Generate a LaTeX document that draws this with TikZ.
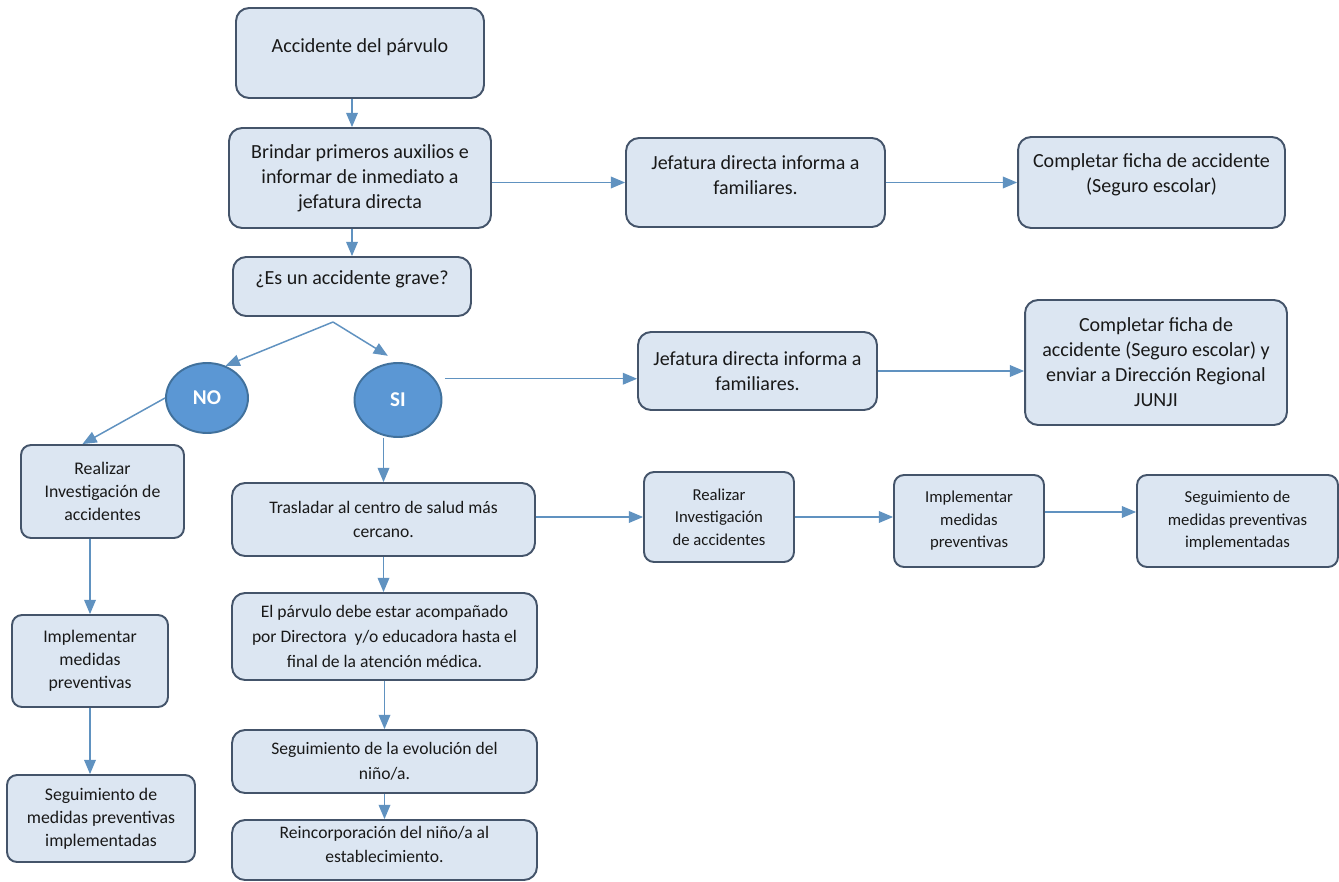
\documentclass[tikz,border=0pt]{standalone}
\usepackage{fontspec}
\setmainfont{Carlito}
\usepackage{tikz}
\usetikzlibrary{positioning,arrows,shapes,calc}

\definecolor{boxfill}{RGB}{220,230,242}
\definecolor{boxline}{RGB}{68,84,106}
\definecolor{circfill}{RGB}{91,151,212}
\definecolor{circline}{RGB}{65,113,156}
\definecolor{arrline}{RGB}{96,146,192}
\definecolor{txt}{RGB}{25,25,25}

\begin{document}
\begin{tikzpicture}[x=0.02cm, y=-0.02cm,
   pbox/.style={draw=boxline, line width=1.1pt, fill=boxfill, rounded corners=0.26cm, align=center, text=txt, inner sep=2pt, font=\fontsize{11.4}{14.2}\selectfont},
   mbox/.style={pbox, font=\fontsize{10}{14}\selectfont},
   sbox/.style={pbox, rounded corners=0.2cm, font=\fontsize{10.1}{13}\selectfont},
   tbox/.style={sbox, font=\fontsize{9.5}{12.8}\selectfont},
   cnode/.style={draw=circline, line width=1.1pt, fill=circfill, ellipse, inner sep=0pt, text=white, font=\fontsize{12}{14}\selectfont\bfseries},
   arr/.style={->,>=triangle 45, draw=arrline, line width=0.85pt},
]

    \useasboundingbox (0,0) rectangle (1339,882);

    % main column
    \node[pbox, minimum width=4.96cm, minimum height=1.8cm, text depth=0.3cm] (acc) at (360,53) {Accidente del párvulo};
    \node[pbox, minimum width=5.24cm, minimum height=2cm] (aux) at (360,178) {Brindar primeros auxilios e\\informar de inmediato a\\jefatura directa};
    \node[pbox, minimum width=4.76cm, minimum height=1.18cm, text depth=0.34cm] (grave) at (352,286.5) {¿Es un accidente grave?};

    \node[pbox, minimum width=5.18cm, minimum height=1.78cm, text depth=0.28cm] (info1) at (755.5,182.5) {Jefatura directa informa a\\familiares.};
    \node[pbox, minimum width=5.34cm, minimum height=1.82cm, text depth=0.37cm] (ficha1) at (1151.5,182.5) {Completar ficha de accidente\\(Seguro escolar)};

    \node[cnode, minimum width=1.64cm, minimum height=1.4cm] (no) at (207,398) {NO};
    \node[cnode, minimum width=1.74cm, minimum height=1.48cm] (si) at (398,400) {SI};

    \node[pbox, minimum width=4.78cm, minimum height=1.56cm] (info2) at (757.5,371) {Jefatura directa informa a\\familiares.};
    \node[pbox, minimum width=5.24cm, minimum height=2.5cm] (ficha2) at (1156,362.5) {Completar ficha de\\accidente (Seguro escolar) y\\enviar a Dirección Regional\\JUNJI};

    % NO branch
    \node[sbox, minimum width=3.26cm, minimum height=1.86cm] (inv1) at (102.5,491.5) {Realizar\\Investigación de\\accidentes};
    \node[sbox, minimum width=3.12cm, minimum height=1.84cm] (impl1) at (90,661) {Implementar\\medidas\\preventivas};
    \node[sbox, minimum width=3.76cm, minimum height=1.74cm] (seg1) at (101,818.5) {Seguimiento de\\medidas preventivas\\implementadas};

    % SI branch
    \node[mbox, minimum width=6.06cm, minimum height=1.46cm] (tras) at (383.5,519.5) {Trasladar al centro de salud más\\cercano.};
    \node[mbox, minimum width=6.1cm, minimum height=1.74cm] (acomp) at (384.5,636.5) {El párvulo debe estar acompañado\\por Directora\ \ y/o educadora hasta el\\final de la atención médica.};
    \node[mbox, minimum width=6.1cm, minimum height=1.26cm] (evol) at (384.5,761.5) {Seguimiento de la evolución del\\niño/a.};
    \node[mbox, minimum width=6.1cm, minimum height=1.2cm, text depth=0.22cm] (reinc) at (384.5,850) {Reincorporación del niño/a al\\establecimiento.};

    \node[tbox, minimum width=3cm, minimum height=1.8cm] (inv2) at (719,517) {Realizar\\Investigación\\de accidentes};
    \node[tbox, minimum width=3cm, minimum height=1.84cm] (impl2) at (969,521) {Implementar\\medidas\\preventivas};
    \node[tbox, minimum width=4.02cm, minimum height=1.84cm] (seg2) at (1237.5,521) {Seguimiento de\\medidas preventivas\\implementadas};

    \coordinate (split) at (333,322);

    \draw[arr] (acc.south -| grave.north) -- (aux.north -| grave.north);
    \draw[arr] (aux.south -| grave.north) -- (grave.north);
    \draw[arr] (aux.east |- info1.west) -- (info1.west);
    \draw[arr] (info1.east) -- (ficha1.west);
    \draw[arr] (split) -- (no.60);
    \draw[arr, shorten >=0.24cm] (split) -- (si.north);
    \draw[arr] (no.west) -- ([xshift=-0.4cm]inv1.north);
    \draw[arr, shorten <=0.2cm] (si.30) -- (si.30 -| info2.west);
    \draw[arr] (info2.east) -- (info2.east -| ficha2.west);
    \draw[arr] (si.south -| tras.north) -- (tras.north);
    \draw[arr] (tras.east |- inv2.west) -- (inv2.west);
    \draw[arr] (inv2.east) -- (inv2.east -| impl2.west);
    \draw[arr] ([yshift=0.18cm]impl2.east) -- ([yshift=0.18cm]seg2.west);
    \draw[arr] (inv1.south -| impl1.north) -- (impl1.north);
    \draw[arr] (impl1.south) -- (impl1.south |- seg1.north);
    \draw[arr] (tras.south) -- (tras.south |- acomp.north);
    \draw[arr] (acomp.south) -- (acomp.south |- evol.north);
    \draw[arr] (evol.south) -- (evol.south |- reinc.north);

\end{tikzpicture}
\end{document}
